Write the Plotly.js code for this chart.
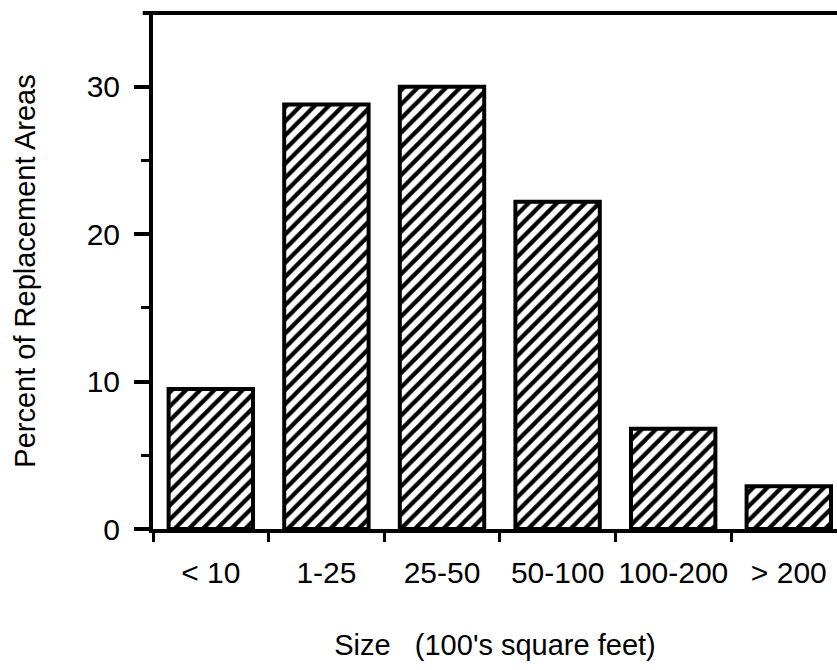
<!DOCTYPE html>
<html>
<head>
<meta charset="utf-8">
<script src="https://cdn.plot.ly/plotly-3.0.1.min.js"></script>
<style>html,body{margin:0;padding:0;background:#fff;}#chart{width:837px;height:670px;}</style>
</head>
<body>
<div id="chart"></div>
<script>
const categories = ["< 10", "1-25", "25-50", "50-100", "100-200", "> 200"];
const percentValues = [9.5, 28.8, 30.0, 22.2, 6.8, 2.9];
const yTickValues = [0, 10, 20, 30];
const yTickLabels = ["0", "10", "20", "30"];
const xTitle = "Size\u00a0\u00a0\u00a0(100's square feet)";
const yTitle = "Percent of Replacement Areas";

const FONT = "Liberation Sans, Arial, Helvetica, sans-serif";

const trace = {
  type: "bar",
  x: categories,
  y: percentValues,
  marker: {
    color: "white",
    line: {color: "black", width: 4},
    pattern: {shape: "/", fgcolor: "black", bgcolor: "white", size: 10, solidity: 0.42}
  },
  hoverinfo: "skip"
};

const layout = {
  width: 837,
  height: 670,
  autosize: false,
  paper_bgcolor: "white",
  plot_bgcolor: "white",
  margin: {l: 153, r: 0, t: 13, b: 141},
  bargap: 0.27,
  showlegend: false,
  font: {family: FONT, color: "black", size: 30},
  xaxis: {
    type: "category",
    range: [-0.5, 5.417],
    showline: true, linewidth: 4, linecolor: "black",
    ticks: "outside", tickson: "boundaries", ticklen: 9, tickwidth: 3, tickcolor: "black",
    showgrid: false, zeroline: false,
    tickangle: 0,
    tickfont: {family: FONT, size: 30, color: "black"},
    ticklabelstandoff: 14,
    title: {text: xTitle, font: {family: FONT, size: 29, color: "black"}, standoff: 48}
  },
  yaxis: {
    range: [0, 35],
    showline: true, linewidth: 4, linecolor: "black",
    ticks: "outside", ticklen: 15, tickwidth: 4, tickcolor: "black",
    tickvals: yTickValues, ticktext: yTickLabels,
    minor: {tickvals: [5, 15, 25], ticks: "outside", ticklen: 8, tickwidth: 3, tickcolor: "black", showgrid: false},
    showgrid: false, zeroline: false,
    tickfont: {family: FONT, size: 30, color: "black"},
    ticklabelstandoff: 8,
    title: {text: yTitle, font: {family: FONT, size: 29, color: "black"}, standoff: 43}
  },
  shapes: [{
    type: "line", xref: "paper", yref: "paper",
    x0: -0.015, x1: 1, y0: 1, y1: 1,
    line: {color: "black", width: 4}
  }]
};

Plotly.newPlot("chart", [trace], layout, {staticPlot: true, displayModeBar: false});
</script>
</body>
</html>
